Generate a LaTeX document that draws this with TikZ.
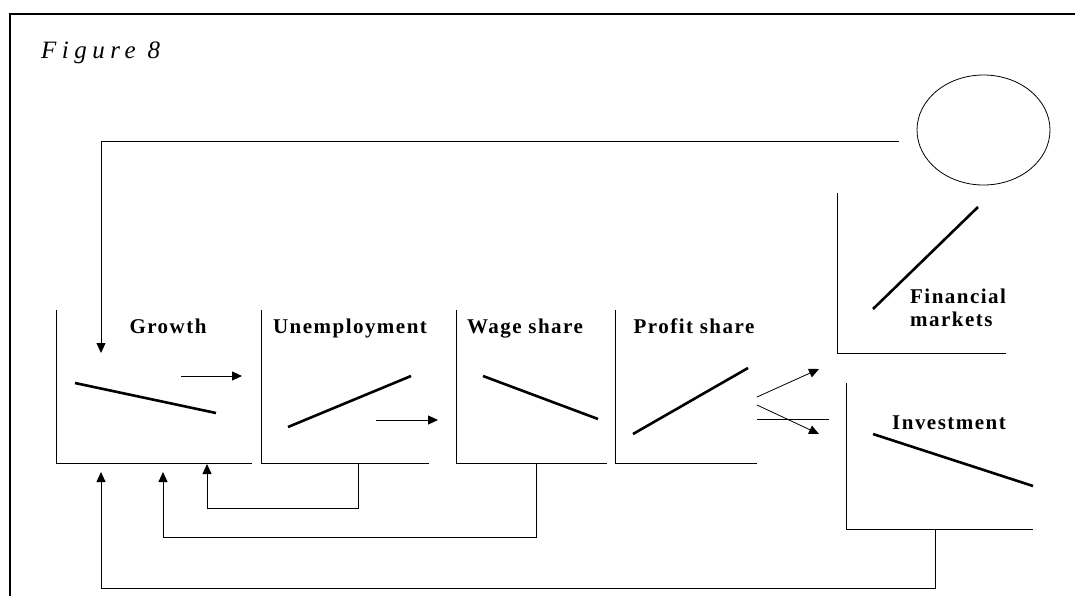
\documentclass[tikz,border=0pt]{standalone}
\usepackage{fontspec}
\setmainfont{Liberation Serif}
\newfontfamily\lsfont[LetterSpace=7]{Liberation Serif}
\newfontfamily\titfont[LetterSpace=22]{Liberation Serif}
\usetikzlibrary{arrows.meta,shapes.geometric}
\begin{document}
\begin{tikzpicture}[x=1pt,y=-1pt,
  thin line/.style={line width=0.8pt, draw=black},
  curve/.style={line width=2.6pt, line cap=butt},
  arr/.style={thin line, -{Triangle[length=10pt,width=9pt]}},
  panel/.style={rectangle, inner sep=0pt, outer sep=0pt},
  axes/.style={thin line},
  lab/.style={inner sep=0pt, anchor=base, font=\lsfont\bfseries\fontsize{21}{25}\selectfont},
  frame/.style={line width=1.8pt}]
\useasboundingbox (0,0) rectangle (1075,595);
% frame
\draw[frame] (1076,14) -- (10,14) -- (10,596);
\node[inner sep=0pt, anchor=base west, font=\titfont\itshape\fontsize{25}{29}\selectfont] (title) at (41,58) {Figure 8};
% panels
\node[panel, minimum width=196pt, minimum height=153pt] (G) at (154,386.5) {};
\node[panel, minimum width=168pt, minimum height=153pt] (U) at (345,386.5) {};
\node[panel, minimum width=151pt, minimum height=153pt] (W) at (531.5,386.5) {};
\node[panel, minimum width=142pt, minimum height=153pt] (P) at (686,386.5) {};
\node[panel, minimum width=169pt, minimum height=160pt] (F) at (921.5,273) {};
\node[panel, minimum width=187pt, minimum height=146pt] (I) at (939.5,456) {};
\node[draw, thin line, ellipse, inner sep=0pt, minimum width=133pt, minimum height=110pt] (E) at (983.5,130) {};
\foreach \p in {G,U,W,P,F,I} \draw[axes] (\p.north west) |- (\p.south east);
% labels
\node[lab] (tG) at (168,333) {Growth};
\node[lab] (tU) at (350,333) {Unemployment};
\node[lab] (tW) at (525,333) {Wage share};
\node[lab] (tP) at (694,333) {Profit share};
\node[lab, anchor=base west] (tF1) at (910,303) {Financial};
\node[lab, anchor=base west] (tF2) at (910,326) {markets};
\node[lab] (tI) at (949,429) {Investment};
% curves
\draw[curve] (75,383) -- (216,413);
\draw[curve] (288,427) -- (411,376);
\draw[curve] (483,376) -- (598,419);
\draw[curve] (633,434) -- (748,368);
\draw[curve] (873,309) -- (978,207);
\draw[curve] (873,434) -- (1033,486);
% connector end points
\coordinate (e0) at (899,141);
\coordinate (g0) at (101,353);
\coordinate (ga) at (181,376);
\coordinate (gb) at (242,376);
\coordinate (ua) at (376,420);
\coordinate (ub) at (438,420);
\coordinate (pa1) at (757,397);
\coordinate (pb1) at (819,369);
\coordinate (pa2) at (757,405);
\coordinate (pb2) at (819,434);
\coordinate (pl1) at (757,419);
\coordinate (pl2) at (829,419);
\coordinate (u0) at (358,463);
\coordinate (g1) at (207,464);
\coordinate (w0) at (536,463);
\coordinate (g2) at (163,472);
\coordinate (i0) at (935,529);
\coordinate (g3) at (101,472);
% connectors
\draw[arr] (e0) -| (g0);
\draw[arr] (ga) -- (gb);
\draw[arr] (ua) -- (ub);
\draw[arr] (pa1) -- (pb1);
\draw[arr] (pa2) -- (pb2);
\draw[thin line] (pl1) -- (pl2);
\draw[arr] (u0) -- (u0 |- 0,508) -| (g1);
\draw[arr] (w0) -- (w0 |- 0,537) -| (g2);
\draw[arr] (i0) -- (i0 |- 0,588) -| (g3);
\end{tikzpicture}
\end{document}
